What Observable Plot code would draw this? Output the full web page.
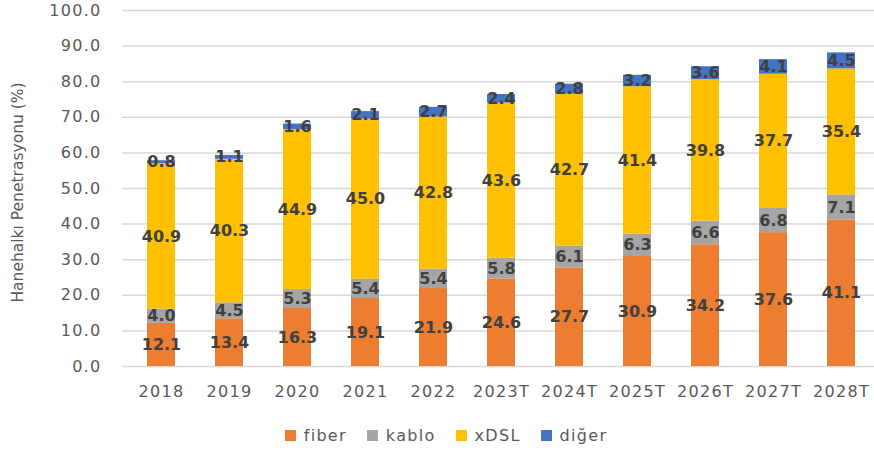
<!DOCTYPE html>
<html>
<head>
<meta charset="utf-8">
<script src="https://cdn.jsdelivr.net/npm/d3@7"></script>
<script src="https://cdn.jsdelivr.net/npm/@observablehq/plot@0.6"></script>
<style>
  body { margin: 0; background: #fff; font-family: "DejaVu Sans", sans-serif; }
  #legend { position: relative; height: 20px; margin-top: 10px; font-size: 16px; color: #595959; letter-spacing: 1.3px; display: flex; justify-content: center; padding-left: 18px; gap: 20px; }
  #legend .item { display: flex; align-items: center; white-space: nowrap; }
  #legend span.sw { display: inline-block; width: 11px; height: 11px; margin-right: 8px; }
  g[aria-label="x-axis tick label"] text, g[aria-label="y-axis tick label"] text { letter-spacing: 1.3px; }
</style>
</head>
<body>
<div id="chart"></div>
<div id="legend"></div>
<script>
const years = ["2018","2019","2020","2021","2022","2023T","2024T","2025T","2026T","2027T","2028T"];
const seriesNames = ["fiber","kablo","xDSL","diğer"];
const seriesColors = ["#ED7D31","#A5A5A5","#FFC000","#4472C4"];
const fiber = [12.1,13.4,16.3,19.1,21.9,24.6,27.7,30.9,34.2,37.6,41.1];
const kablo = [4.0,4.5,5.3,5.4,5.4,5.8,6.1,6.3,6.6,6.8,7.1];
const xdsl  = [40.9,40.3,44.9,45.0,42.8,43.6,42.7,41.4,39.8,37.7,35.4];
const diger = [0.8,1.1,1.6,2.1,2.7,2.4,2.8,3.2,3.6,4.1,4.5];
const yTicks = [0,10,20,30,40,50,60,70,80,90,100];

const seriesValues = [fiber, kablo, xdsl, diger];
const data = [];
years.forEach((yr, i) => {
  seriesNames.forEach((s, j) => data.push({year: yr, series: s, value: seriesValues[j][i]}));
});

const chart = Plot.plot({
  width: 874,
  height: 415,
  marginLeft: 122,
  marginRight: 0,
  marginTop: 10,
  marginBottom: 49,
  style: {fontFamily: "DejaVu Sans, sans-serif", background: "#fff", overflow: "visible"},
  x: {domain: years, range: [122, 879], paddingInner: 0.59, paddingOuter: 0.295, label: null},
  y: {domain: [0, 100], label: null},
  color: {domain: seriesNames, range: seriesColors},
  marks: [
    Plot.ruleY(yTicks, {stroke: "#d9d9d9", strokeWidth: 1.5}),
    Plot.axisY(yTicks, {tickSize: 0, tickPadding: 21, tickFormat: d => d.toFixed(1), fontSize: 16, fill: "#595959", label: null}),
    Plot.axisX({tickSize: 0, tickPadding: 19, fontSize: 16, fill: "#595959", label: null}),
    Plot.text(["Hanehalkı Penetrasyonu (%)"], {frameAnchor: "left", textAnchor: "middle", dx: -104, dy: 4, rotate: -90, fontSize: 15.5, fill: "#595959", text: d => d}),
    Plot.barY(data, Plot.stackY({x: "year", y: "value", z: "series", fill: "series"})),
    Plot.text(data, Plot.stackY({x: "year", y: "value", z: "series", text: d => d.value.toFixed(1), fontSize: 16, fontWeight: "bold", fill: "#404040"}))
  ]
});
document.getElementById("chart").appendChild(chart);

const legend = document.getElementById("legend");
seriesNames.forEach((s, i) => {
  const item = document.createElement("div");
  item.className = "item";
  item.innerHTML = `<span class="sw" style="background:${seriesColors[i]}"></span>${s}`;
  legend.appendChild(item);
});
</script>
</body>
</html>
